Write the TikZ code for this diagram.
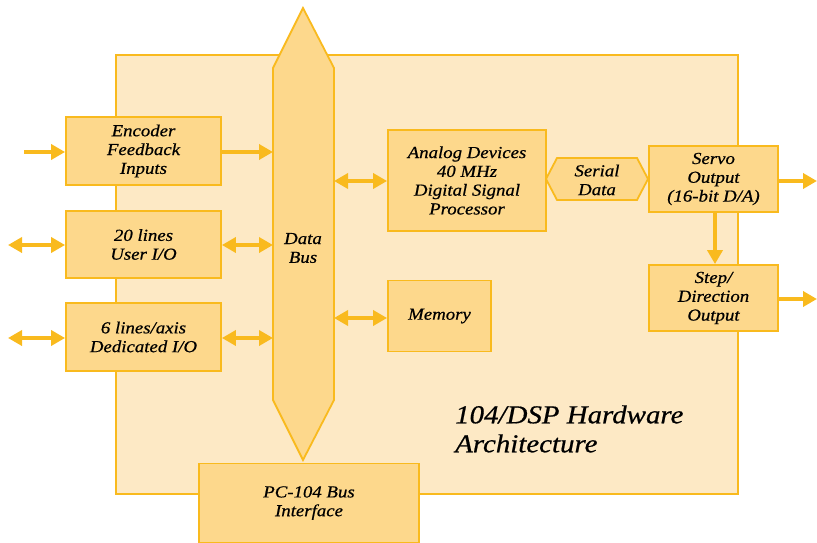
\documentclass[tikz,border=0pt]{standalone}
\usepackage{fontspec}
\setmainfont{Liberation Serif}[FakeStretch=1.12, ItalicFeatures={FakeBold=0.6}]
\usetikzlibrary{arrows.meta}
\definecolor{bgfill}{RGB}{253,233,197}
\definecolor{boxfill}{RGB}{253,216,140}
\definecolor{edgecol}{RGB}{249,186,30}
\newcommand\lblfont{\fontsize{16.8}{18.8}\selectfont\itshape}
\newcommand\ttlfont{\fontsize{25.8}{29}\selectfont\itshape}
\begin{document}
\begin{tikzpicture}[x=1pt,y=-1pt,
  box/.style={draw=edgecol, fill=boxfill, line width=1.8pt, inner sep=0pt, align=center, font=\lblfont, text=black},
  plainlbl/.style={inner sep=0pt, align=center, font=\lblfont, text=black},
  arr/.style={draw=edgecol, line width=3.8pt, -{Triangle[length=14pt,width=15pt]}},
  darr/.style={draw=edgecol, line width=3.8pt, {Triangle[length=14pt,width=15pt]}-{Triangle[length=14pt,width=15pt]}}]
\useasboundingbox (0,0) rectangle (817,543);
% background board
\filldraw[fill=bgfill, draw=edgecol, line width=1.5pt] (116,55) rectangle (738,494);
% data bus
\filldraw[fill=boxfill, draw=edgecol, line width=1.8pt]
  (303,8) -- (334,68) -- (334,400) -- (303,460) -- (273,400) -- (273,68) -- cycle;
\node[plainlbl] (bus) at (303,248) {Data\\Bus};
\coordinate (busL) at (273,0);
\coordinate (busR) at (334,0);
% left boxes
\node[box, minimum width=155pt, minimum height=68pt] (enc) at (143.5,151) {Encoder\\Feedback\\Inputs};
\node[box, minimum width=155pt, minimum height=67pt] (io20) at (143.5,244.5) {20 lines\\User I/O};
\node[box, minimum width=155pt, minimum height=68pt] (io6) at (143.5,337) {6 lines/axis\\Dedicated I/O};
% dsp & memory
\node[box, minimum width=158pt, minimum height=101pt] (dsp) at (467,180.5) {Analog Devices\\40 MHz\\Digital Signal\\Processor};
\node[box, minimum width=103pt, minimum height=71pt] (mem) at (439.5,316) {Memory};
% serial data hexagon
\filldraw[fill=boxfill, draw=edgecol, line width=1.8pt]
  (546,179) -- (557,158) -- (637,158) -- (648,179) -- (637,200) -- (557,200) -- cycle;
\node[plainlbl] (serial) at (597,180) {Serial\\Data};
% outputs
\node[box, minimum width=129pt, minimum height=66pt] (servo) at (713.5,179) {Servo\\Output\\(16-bit D/A)};
\node[box, minimum width=129pt, minimum height=66pt] (step) at (713.5,298) {Step/\\Direction\\Output};
% pc-104
\node[box, minimum width=220pt, minimum height=79pt] (pc) at (309,503) {PC-104 Bus\\Interface};
% title
\node[inner sep=0pt, align=left, anchor=west, font=\ttlfont, text=black] (title) at (455,429) {104/DSP Hardware\\Architecture};
% connectors
\coordinate (encin) at (24,152);
\coordinate (io20l) at (8,245);
\coordinate (io6l) at (8,338);
\coordinate (servoout) at (817,181);
\coordinate (stepout) at (817,299);
\draw[arr] (encin) -- (enc.west |- encin);
\draw[arr] (enc.east |- encin) -- (busL |- encin);
\draw[darr] (io20l) -- (io20.west |- io20l);
\draw[darr] (io20.east |- io20l) -- (busL |- io20l);
\draw[darr] (io6l) -- (io6.west |- io6l);
\draw[darr] (io6.east |- io6l) -- (busL |- io6l);
\draw[darr] (busR |- 0,181) -- (dsp.west |- 0,181);
\draw[darr] (busR |- 0,318) -- (mem.west |- 0,318);
\draw[arr] (servo.east |- servoout) -- (servoout);
\draw[arr] (servo.south -| 715,0) -- (step.north -| 715,0);
\draw[arr] (step.east |- stepout) -- (stepout);
\end{tikzpicture}
\end{document}
